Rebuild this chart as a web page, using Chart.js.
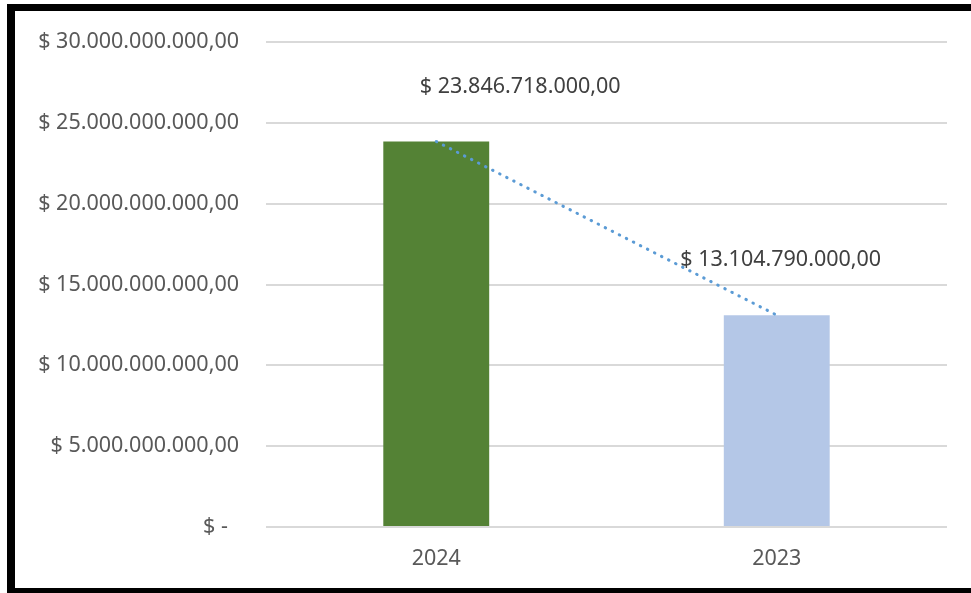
<!DOCTYPE html>
<html>
<head>
<meta charset="utf-8">
<script src="https://cdn.jsdelivr.net/npm/chart.js@4.4.0/dist/chart.umd.min.js"></script>
<style>
  html, body { margin: 0; padding: 0; background: #fff; }
  #wrap { position: relative; width: 971px; height: 593px; overflow: hidden; }
  #chart { position: absolute; left: 0; top: 0; }
  .edge { position: absolute; background: #000; }
</style>
</head>
<body>
<div id="wrap">
  <canvas id="chart" width="971" height="593"></canvas>
  <div class="edge" style="left:7px;top:4px;width:964px;height:7px"></div>
  <div class="edge" style="left:7px;top:4px;width:8px;height:589px"></div>
  <div class="edge" style="left:7px;top:588px;width:964px;height:5px"></div>
</div>
<script>
const years = ["2024", "2023"];
const totals = [23846718000, 13104790000];
const barColors = ["#548235", "#b4c7e7"];
const labelShift = [84, 4];

const fmt = (v) => {
  if (v === 0) return "$ -  ";
  const s = Math.round(v).toString().replace(/\B(?=(\d{3})+(?!\d))/g, ".");
  return "$ " + s + ",00";
};

// value labels above bars
const valueLabels = {
  id: "valueLabels",
  afterDatasetsDraw(chart) {
    const ctx = chart.ctx;
    const meta = chart.getDatasetMeta(0);
    ctx.save();
    ctx.font = "21.5px 'Noto Sans'";
    ctx.fillStyle = "#404040";
    ctx.textAlign = "center";
    ctx.textBaseline = "middle";
    meta.data.forEach((bar, i) => {
      ctx.fillText(fmt(totals[i]), bar.x + labelShift[i], bar.y - 55);
    });
    ctx.restore();
  }
};

new Chart(document.getElementById("chart").getContext("2d"), {
  type: "bar",
  data: {
    labels: years,
    datasets: [
      {
        type: "bar",
        data: totals,
        backgroundColor: barColors,
        categoryPercentage: 1,
        barPercentage: 0.311,
        order: 2
      },
      {
        type: "line",
        data: totals,
        borderColor: "#5b9bd5",
        borderWidth: 3,
        borderDash: [0.5, 7.4],
        borderCapStyle: "round",
        pointRadius: 0,
        fill: false,
        order: 1
      }
    ]
  },
  options: {
    responsive: false,
    animation: false,
    layout: { padding: { top: 42, right: 24, bottom: 0, left: 0 } },
    plugins: { legend: { display: false }, tooltip: { enabled: false } },
    scales: {
      x: {
        grid: { display: false },
        border: { display: false },
        ticks: { color: "#595959", font: { family: "Noto Sans", size: 21.5 }, padding: 11 },
        afterFit: (s) => { s.height = 66; }
      },
      y: {
        min: 0,
        max: 30000000000,
        grid: { color: "#d9d9d9", lineWidth: 2, drawTicks: false },
        border: { display: false },
        ticks: {
          stepSize: 5000000000,
          color: "#595959",
          font: { family: "Noto Sans", size: 21.5 },
          padding: 27,
          callback: (v) => fmt(v)
        },
        afterFit: (s) => { s.width = 266; }
      }
    }
  },
  plugins: [valueLabels]
});
</script>
</body>
</html>
